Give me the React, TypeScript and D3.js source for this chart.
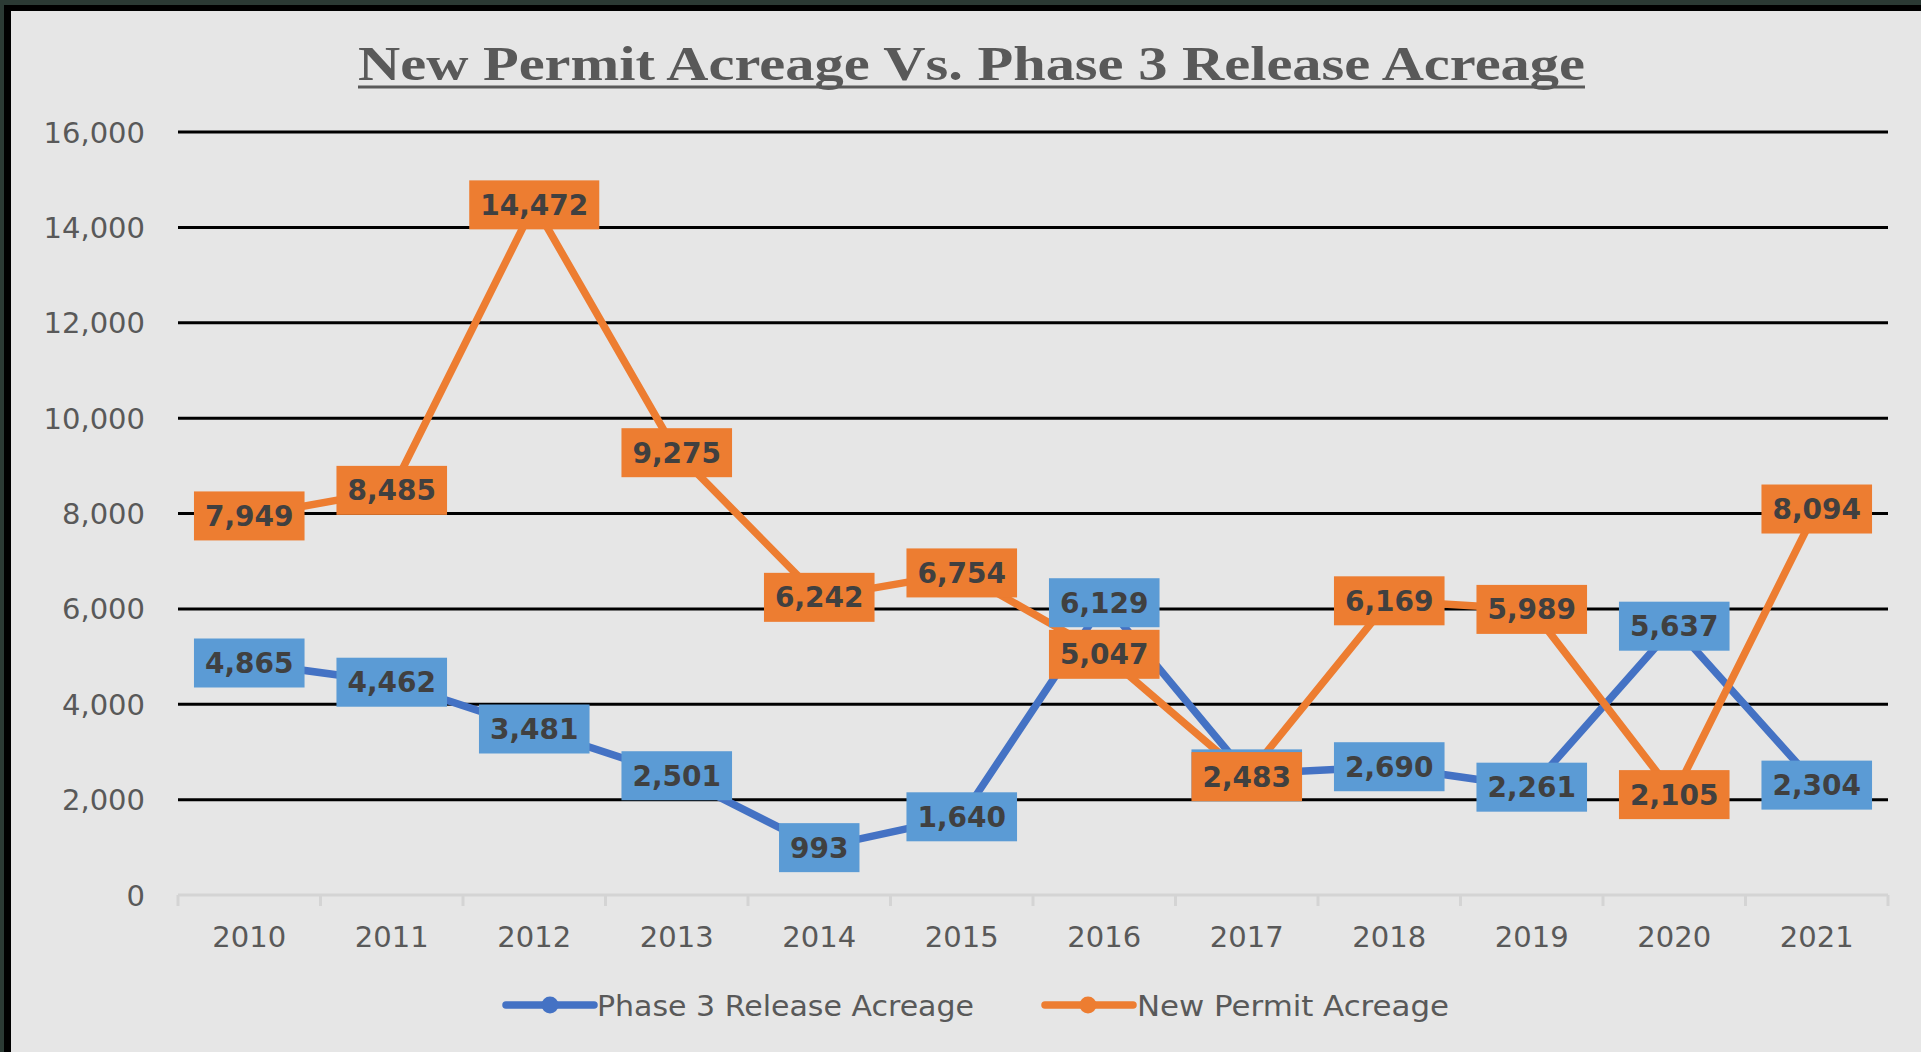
import React from 'react';
import * as d3 from 'd3';

const width = 1921;
const height = 1052;
const margin = {top: 132, right: 33, bottom: 157, left: 178};
const blueLine = '#4472c4';
const blueBox = '#5b9bd5';
const orange = '#ed7d31';
const textGray = '#595959';
const labelGray = '#404040';

const years = ['2010', '2011', '2012', '2013', '2014', '2015', '2016', '2017', '2018', '2019', '2020', '2021'];
const phase3 = [4865, 4462, 3481, 2501, 993, 1640, 6129, 2540, 2690, 2261, 5637, 2304];
const newPermit = [7949, 8485, 14472, 9275, 6242, 6754, 5047, 2483, 6169, 5989, 2105, 8094];
const yTicks = [0, 2000, 4000, 6000, 8000, 10000, 12000, 14000, 16000];

const labelFont = "bold 28px 'DejaVu Sans'";
const fmt = d3.format(',');

// measure label text so boxes fit like Excel's
const ctx = document.createElement('canvas').getContext('2d');
const textWidth = (s) => {
  if (!ctx) return s.length * 17;
  ctx.font = labelFont;
  return ctx.measureText(s).width;
};

const xScale = d3.scaleBand().domain(years).range([margin.left, width - margin.right]);
const yScale = d3.scaleLinear().domain([0, 16000]).range([height - margin.bottom, margin.top]);
const cx = (y) => xScale(y) + xScale.bandwidth() / 2;

const lineGenerator = d3.line().x((d, i) => cx(years[i])).y(d => yScale(d));

function Labels({values, fill}) {
  return (
    <g>
      {values.map((v, i) => {
        const s = fmt(v);
        const w = textWidth(s) + 22;
        const x = cx(years[i]);
        const y = yScale(v);
        return (
          <g key={i}>
            <rect x={x - w / 2} y={y - 24.5} width={w} height={49} fill={fill}/>
            <text x={x} y={y + 10} textAnchor="middle" fontFamily="DejaVu Sans" fontWeight="bold"
              fontSize={28} fill={labelGray}>{s}</text>
          </g>
        );
      })}
    </g>
  );
}

export default function App() {
  const x0 = margin.left;
  const x1 = width - margin.right;
  const y0 = yScale(0);
  const boundaries = years.map(y => xScale(y)).concat([x1]);

  return (
    <svg width={width} height={height} style={{position: 'absolute', left: 0, top: 0}}>
      <rect x={0} y={0} width={width} height={height} fill="#e6e6e6"/>
      <rect x={0} y={0} width={width} height={11} fill="#000"/>
      <rect x={0} y={0} width={11} height={height} fill="#000"/>
      <rect x={0} y={0} width={width} height={5} fill="#2b3a34"/>
      <rect x={0} y={0} width={4} height={height} fill="#2b3a34"/>

      {/* title */}
      <text x={971.5} y={80} textAnchor="middle" fontFamily="Liberation Serif" fontWeight="bold"
        fontSize={48} fill={textGray} textLength={1227} lengthAdjust="spacingAndGlyphs">
        New Permit Acreage Vs. Phase 3 Release Acreage
      </text>
      <line x1={358} x2={1585} y1={87} y2={87} stroke={textGray} strokeWidth={3}/>

      {/* gridlines + y labels */}
      {yTicks.map(t => (
        <g key={t}>
          {t > 0 && <line x1={x0} x2={x1} y1={yScale(t)} y2={yScale(t)} stroke="#000" strokeWidth={3}/>}
          <text x={145} y={yScale(t) + 10.5} textAnchor="end" fontFamily="DejaVu Sans" fontSize={29}
            fill={textGray}>{fmt(t)}</text>
        </g>
      ))}

      {/* x axis */}
      <line x1={x0} x2={x1} y1={y0} y2={y0} stroke="#d4d4d4" strokeWidth={3}/>
      {boundaries.map((b, i) => (
        <line key={i} x1={b} x2={b} y1={y0} y2={y0 + 11} stroke="#d4d4d4" strokeWidth={3}/>
      ))}
      {years.map(y => (
        <text key={y} x={cx(y)} y={947} textAnchor="middle" fontFamily="DejaVu Sans" fontSize={29}
          fill={textGray}>{y}</text>
      ))}

      {/* series */}
      <path d={lineGenerator(phase3)} fill="none" stroke={blueLine} strokeWidth={7.5} strokeLinejoin="round"/>
      <path d={lineGenerator(newPermit)} fill="none" stroke={orange} strokeWidth={7.5} strokeLinejoin="round"/>
      <Labels values={phase3} fill={blueBox}/>
      <Labels values={newPermit} fill={orange}/>

      {/* legend */}
      <g>
        <line x1={506} x2={594} y1={1005} y2={1005} stroke={blueLine} strokeWidth={7.5} strokeLinecap="round"/>
        <circle cx={550} cy={1005} r={8.5} fill={blueLine}/>
        <text x={597} y={1015.5} fontFamily="DejaVu Sans" fontSize={29} fill={textGray}
          textLength={377} lengthAdjust="spacingAndGlyphs">Phase 3 Release Acreage</text>
        <line x1={1045} x2={1133} y1={1005} y2={1005} stroke={orange} strokeWidth={7.5} strokeLinecap="round"/>
        <circle cx={1088} cy={1005} r={8.5} fill={orange}/>
        <text x={1137} y={1015.5} fontFamily="DejaVu Sans" fontSize={29} fill={textGray}
          textLength={312} lengthAdjust="spacingAndGlyphs">New Permit Acreage</text>
      </g>
    </svg>
  );
}
